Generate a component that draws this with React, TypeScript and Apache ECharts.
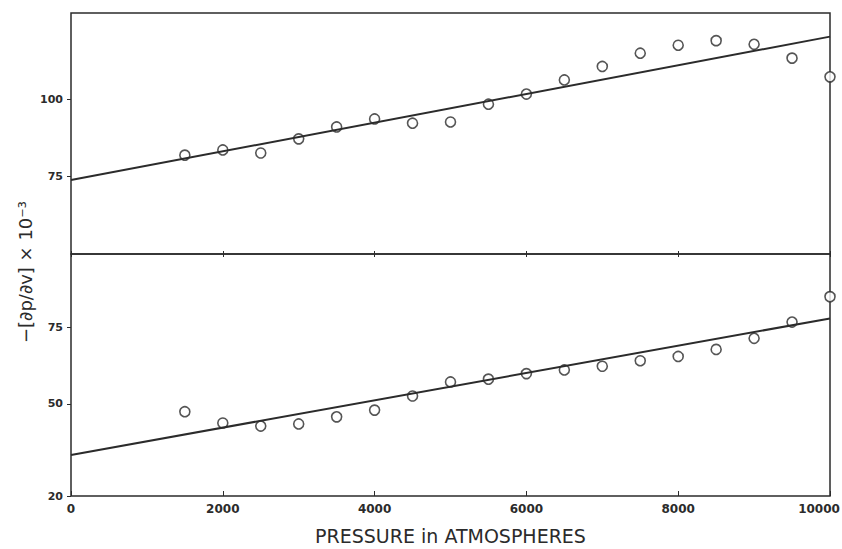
import React, { useEffect, useRef } from "react";
import * as echarts from "echarts";

const pressures = [1500, 2000, 2500, 3000, 3500, 4000, 4500, 5000, 5500, 6000, 6500, 7000, 7500, 8000, 8500, 9000, 9500, 10000];
const upperValues = [81.8, 83.5, 82.5, 87.1, 91.0, 93.6, 92.2, 92.6, 98.4, 101.7, 106.3, 110.7, 115.0, 117.6, 119.1, 117.9, 113.4, 107.3];
const lowerValues = [47.5, 43.8, 42.8, 43.5, 45.8, 48.0, 52.6, 57.2, 58.1, 59.9, 61.1, 62.3, 64.1, 65.5, 67.8, 71.4, 76.7, 85.0];
const upperFit = [[0, 73.7], [10000, 120.4]];
const lowerFit = [[0, 33.4], [10000, 77.9]];
const xTicks = [0, 2000, 4000, 6000, 8000, 10000];
const upperYTicks = [75, 100];
const lowerYTicks = [20, 50, 75];

const INK = "#2b2b2b";
const LABEL_FONT = "'DejaVu Sans', sans-serif";

export default function App() {
  const ref = useRef<HTMLDivElement>(null);
  useEffect(() => {
    if (!ref.current) return;
    const chart = echarts.init(ref.current, null, { renderer: "svg" });
    const gridCommon = {
      left: 71,
      width: 759,
      show: true,
      borderColor: INK,
      borderWidth: 1.5,
      backgroundColor: "transparent",
      outerBoundsMode: "none",
      containLabel: false,
    };
    const yLabel = {
      show: true,
      color: INK,
      fontFamily: LABEL_FONT,
      fontWeight: "bold" as const,
      fontSize: 11,
      margin: 8,
    };
    chart.setOption({
      animation: false,
      backgroundColor: "#ffffff",
      grid: [
        { ...gridCommon, top: 13, height: 241 },
        { ...gridCommon, top: 254, height: 242 },
      ],
      xAxis: [
        {
          type: "value", gridIndex: 0, min: 0, max: 10000, interval: 2000,
          position: "bottom",
          axisLine: { show: false },
          axisTick: { show: true, inside: true, length: 3, lineStyle: { color: INK, width: 1 } },
          axisLabel: { show: false },
          splitLine: { show: false },
        },
        {
          type: "value", gridIndex: 1, min: 0, max: 10000, interval: 2000,
          position: "bottom",
          axisLine: { show: false },
          axisTick: { show: true, inside: true, length: 5, lineStyle: { color: INK, width: 1 } },
          axisLabel: {
            show: true, color: INK, fontFamily: LABEL_FONT, fontWeight: "bold", fontSize: 12, margin: 7,
            customValues: xTicks,
            formatter: (v: number) => (v === 10000 ? "{r|" + v + "}" : String(v)),
            rich: {
              r: { color: INK, fontFamily: LABEL_FONT, fontWeight: "bold", fontSize: 12, padding: [0, 22, 0, 0] },
            },
          },
          splitLine: { show: false },
          name: "PRESSURE in ATMOSPHERES",
          nameLocation: "middle",
          nameGap: 30,
          nameTextStyle: { color: INK, fontFamily: LABEL_FONT, fontSize: 19 },
        },
        {
          type: "value", gridIndex: 1, min: 0, max: 10000, interval: 2000,
          position: "top",
          axisLine: { show: false },
          axisTick: { show: true, inside: true, length: 3, lineStyle: { color: INK, width: 1 } },
          axisLabel: { show: false },
          splitLine: { show: false },
        },
      ],
      yAxis: [
        {
          type: "value", gridIndex: 0, min: 49.6, max: 128.1,
          axisLine: { show: false },
          axisTick: { show: true, length: 4, customValues: upperYTicks, lineStyle: { color: INK, width: 1 } },
          axisLabel: { ...yLabel, customValues: upperYTicks },
          splitLine: { show: false },
        },
        {
          type: "value", gridIndex: 1, min: 20, max: 98.9,
          axisLine: { show: false },
          axisTick: { show: true, length: 4, customValues: lowerYTicks, lineStyle: { color: INK, width: 1 } },
          axisLabel: { ...yLabel, customValues: lowerYTicks },
          splitLine: { show: false },
        },
      ],
      series: [
        {
          type: "line", xAxisIndex: 0, yAxisIndex: 0, data: upperFit, showSymbol: false,
          lineStyle: { color: INK, width: 2 }, silent: true,
        },
        {
          type: "line", xAxisIndex: 1, yAxisIndex: 1, data: lowerFit, showSymbol: false,
          lineStyle: { color: INK, width: 2 }, silent: true,
        },
        {
          type: "scatter", xAxisIndex: 0, yAxisIndex: 0, clip: false,
          data: pressures.map((p, i) => [p, upperValues[i]]),
          symbol: "circle", symbolSize: 10,
          itemStyle: { color: "#ffffff", borderColor: INK, borderWidth: 1.6 },
        },
        {
          type: "scatter", xAxisIndex: 1, yAxisIndex: 1, clip: false,
          data: pressures.map((p, i) => [p, lowerValues[i]]),
          symbol: "circle", symbolSize: 10,
          itemStyle: { color: "#ffffff", borderColor: INK, borderWidth: 1.6 },
        },
      ],
      graphic: [
        {
          type: "text",
          x: 25,
          y: 272,
          rotation: Math.PI / 2,
          style: {
            text: "−[∂p/∂v] × 10⁻³",
            fill: INK,
            font: "18px 'DejaVu Sans', sans-serif",
            align: "center",
            verticalAlign: "middle",
          },
        },
      ],
    });
    return () => chart.dispose();
  }, []);
  return (
    <div
      ref={ref}
      style={{ position: "fixed", left: 0, top: 0, width: 842, height: 549, background: "#fff" }}
    />
  );
}
